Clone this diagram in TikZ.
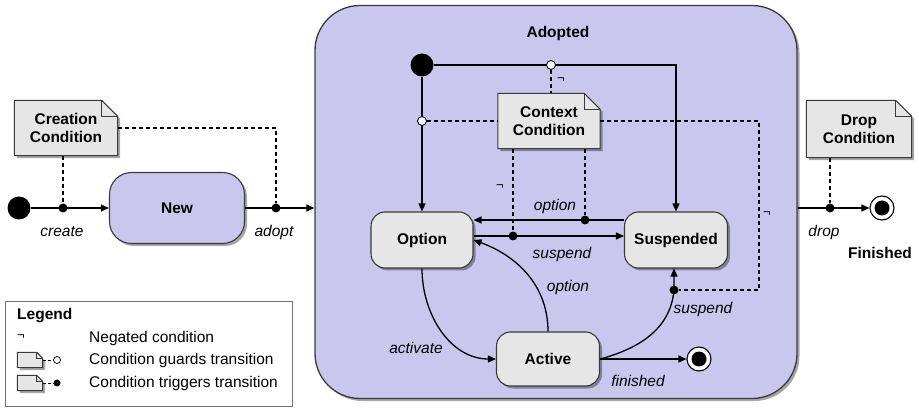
\documentclass[tikz,border=0pt]{standalone}
\usepackage{fontspec}
\setmainfont{Liberation Sans}
\usetikzlibrary{positioning,arrows.meta,shadows}
\definecolor{lilac}{HTML}{CAC7EE}
\definecolor{notegray}{HTML}{E6E6E6}
\definecolor{outline}{HTML}{3A3A3A}
\pgfdeclarelayer{back}
\pgfdeclarelayer{notes}
\pgfsetlayers{back,notes,main}

\begin{document}
\begin{tikzpicture}[x=1pt, y=1pt,
  txt/.style={font=\fontsize{15.5}{18}\selectfont, inner sep=0},
  bold/.style={txt, font=\fontsize{15.5}{18}\selectfont\bfseries},
  lab/.style={txt, font=\fontsize{15.5}{18}\selectfont\itshape},
  neg/.style={txt, font=\fontsize{13}{14}\selectfont},
  dropsh/.style={drop shadow={shadow xshift=2.5pt, shadow yshift=-2.5pt,
                 fill=black, opacity=0.35}},
  stbox/.style={bold, draw=outline, line width=1.1pt, fill=notegray,
                rounded corners=14pt, minimum width=102pt, minimum height=56pt, dropsh},
  notetxt/.style={bold, align=center, minimum width=103pt, minimum height=55pt},
  tr/.style={line width=1.3pt, -{Triangle[length=8pt, width=7pt]}},
  cond/.style={line width=1.3pt, dash pattern=on 4pt off 3pt},
  trig/.style={circle, fill=black, inner sep=0, minimum size=9pt},
  guard/.style={circle, draw=black, fill=white, line width=0.9pt, inner sep=0,
                minimum size=9pt},
  init/.style={circle, fill=black, inner sep=0, minimum size=23pt},
  fin/.style={circle, draw=black, fill=white, line width=1.1pt, inner sep=0,
              minimum size=24pt,
              path picture={\fill[black] (path picture bounding box.center) circle (7.5pt);}}]
\newcommand{\condnote}[2]{% node, ear size
  \begin{pgfonlayer}{notes}
  \path[draw=outline, line width=1pt, fill=notegray, dropsh]
    (#1.south west) -- (#1.north west) -- ([xshift=-#2]#1.north east)
    -- ([yshift=-#2]#1.north east) -- (#1.south east) -- cycle;
  \draw[outline, line width=0.8pt] ([xshift=-#2]#1.north east)
    -- ([xshift=-#2, yshift=-#2]#1.north east) -- ([yshift=-#2]#1.north east);
  \end{pgfonlayer}}
\useasboundingbox (0,0) rectangle (919,410);
% creation
\node[init] (init) at (19,202) {};
\node[stbox, fill=lilac, minimum width=135pt, minimum height=71pt,
  rounded corners=22pt] (new) at (177,202) {New};
\node[trig] (tcreate) at (63,202) {};
\node[trig] (tadopt) at (276,202) {};
\node[notetxt] (ccreate) at (66,282) {Creation\\Condition};
\condnote{ccreate}{16pt}
\begin{pgfonlayer}{back}
\node[draw=outline, line width=1.3pt, fill=lilac, rounded corners=45pt,
  minimum width=482pt, minimum height=393pt, dropsh] (adopted) at (556,208) {};
\end{pgfonlayer}
\node[bold] (adtitle) at (558,377) {Adopted};
\draw[tr] (init) -- (new);
\draw[tr] (new) -- (new -| adopted.west);
\draw[cond] (ccreate.south -| tcreate) -- (tcreate);
\draw[cond] (ccreate.east) -| (tadopt);
\node[lab] (lcreate) at (62,178) {create};
\node[lab] (ladopt) at (274,178) {adopt};
% inside adopted
\node[init] (init2) at (422,345) {};
\node[stbox] (option) at (422,170) {Option};
\node[stbox, minimum width=103pt] (suspended) at (676,170) {Suspended};
\node[stbox, minimum width=103pt, minimum height=54pt] (active) at (548,51) {Active};
\node[notetxt, minimum width=102pt] (ctx) at (549,289) {Context\\Condition};
\condnote{ctx}{16pt}
\node[fin] (final2) at (699,51) {};
\node[trig] (topt) at (585,190) {};
\node[trig] (tsus) at (513,174) {};
\node[trig] (tsus2) at (674,120) {};
\coordinate (cbend) at (759,289);
\draw[tr] (init2) -| (suspended);
\draw[tr] (init2) -- (option);
\draw[tr] (suspended.west |- topt) -- (option.east |- topt);
\draw[tr] (option.east |- tsus) -- (suspended.west |- tsus);
\draw[tr] (option.south) to[out=-90, in=180] (active.west);
\draw[tr] (active.north) to[out=90, in=-20] (option.east);
\draw[tr] (active.east) to[out=15, in=-95] (tsus2.center) -- (tsus2 |- suspended.south);
\draw[tr] (active.east) -- (final2);
\node[guard] (g1) at (551,345) {};
\node[guard] (g2) at (422,289) {};
\draw[cond] (g1) -- (g1 |- ctx.north);
\draw[cond] (g2) -- (ctx.west |- g2);
\draw[cond] (ctx.east |- cbend) -- (cbend) |- (tsus2);
\draw[cond] (ctx.south -| tsus) -- (tsus);
\draw[cond] (ctx.south -| topt) -- (topt);
\node[neg] (n1) at (561,330) {¬};
\node[neg] (n2) at (500,223) {¬};
\node[neg] (n3) at (767,196) {¬};
\node[lab] (lopt1) at (555,204) {option};
\node[lab] (lsus1) at (562,156) {suspend};
\node[lab] (lopt2) at (568,123) {option};
\node[lab] (lact) at (416,62) {activate};
\node[lab] (lsus2) at (703,101) {suspend};
\node[lab] (lfin) at (638,29) {finished};
% drop
\node[trig] (tdrop) at (830,202) {};
\node[fin] (final1) at (882,202) {};
\node[notetxt, minimum width=105pt, minimum height=57pt] (cdrop) at (859,281)
  {Drop\\Condition};
\condnote{cdrop}{16pt}
\draw[tr] (adopted.east |- tdrop) -- (final1);
\draw[cond] (cdrop.south -| tdrop) -- (tdrop);
\node[lab] (ldrop) at (824,178) {drop};
\node[bold] (lfinished) at (880,157) {Finished};
% legend
\node[draw=black!55, line width=0.8pt, minimum width=287pt, minimum height=105pt,
  anchor=south west, inner sep=0] (legend) at (5,3) {};
\node[bold, anchor=west] (legtitle) at (17,94) {Legend};
\node[neg] (legneg) at (21,73) {¬};
\node[txt, anchor=west] (legnegtxt) at (89,72) {Negated condition};
\node[minimum width=25pt, minimum height=15pt, inner sep=0] (icon1) at (30,50) {};
\condnote{icon1}{6pt}
\node[guard, minimum size=7pt, line width=0.7pt] (legg) at (57,50) {};
\draw[cond, line width=0.8pt, dash pattern=on 3pt off 2pt] (icon1) -- (legg);
\node[txt, anchor=west] (leggtxt) at (89,50) {Condition guards transition};
\node[minimum width=25pt, minimum height=15pt, inner sep=0] (icon2) at (30,27) {};
\condnote{icon2}{6pt}
\node[trig, minimum size=7pt] (legt) at (57,27) {};
\draw[cond, line width=0.8pt, dash pattern=on 3pt off 2pt] (icon2) -- (legt);
\node[txt, anchor=west] (legttxt) at (89,27) {Condition triggers transition};
\end{tikzpicture}
\end{document}
